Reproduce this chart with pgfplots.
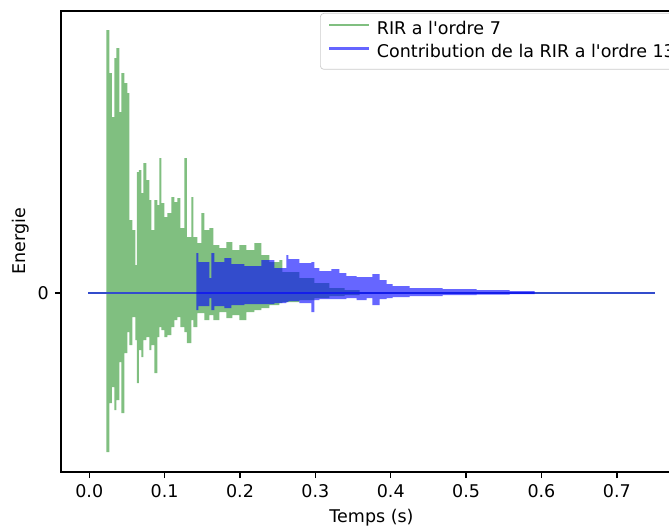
\documentclass[border=0pt]{standalone}
\usepackage{fontspec}
\setmainfont{DejaVu Sans}
\usepackage{pgfplots}
\pgfplotsset{compat=1.18}
\definecolor{mplgreen}{RGB}{128,191,128}
\definecolor{mplblue}{RGB}{0,0,255}
\begin{document}
\begin{tikzpicture}
\useasboundingbox (0,0) rectangle (382.27pt,299.99pt);
\clip (0,0) rectangle (382.27pt,299.99pt);
\begin{axis}[
  at={(34.86pt,30.28pt)}, anchor=south west,
  scale only axis, width=354.84pt, height=263.42pt,
  xmin=-0.0375, xmax=0.7865, ymin=-1.79, ymax=2.82,
  axis line style={line width=0.8pt},
  xtick={0,0.1,0.2,0.3,0.4,0.5,0.6,0.7},
  xticklabels={0.0,0.1,0.2,0.3,0.4,0.5,0.6,0.7},
  ytick={0}, yticklabels={0},
  tick pos=left, tick align=outside,
  major tick length=3.5pt,
  every tick/.style={black, line width=0.8pt},
  /pgf/number format/assume math mode=true,
  ticklabel style={font=\fontsize{10}{12}\selectfont},
  xlabel={Temps (s)}, ylabel={Energie},
  label style={font=\fontsize{10}{12}\selectfont},
  ylabel style={yshift=-2pt},
  legend style={at={(0.4171,0.9957)}, anchor=north west,
    draw=black!20, rounded corners=2pt, fill=white, fill opacity=0.8, text opacity=1,
    inner xsep=5.2pt, inner ysep=4.3pt, row sep=3.4pt, column sep=4.6pt,
    nodes={inner sep=0pt, text height=7.6pt, text depth=2.4pt},
    font=\fontsize{10}{12}\selectfont},
  legend cell align=left,
  legend image code/.code={\draw[#1, line width=1.5pt] (0pt,2.6pt) -- (21pt,2.6pt);},
]
% RIR a l'ordre 7 : enveloppe
\addplot[draw=none, fill=mplgreen, forget plot] coordinates {
(0.0226,0)
(0.0226,2.63) (0.0266,2.63)
(0.0266,2.20) (0.0299,2.20)
(0.0299,1.76) (0.0332,1.76)
(0.0332,2.35) (0.0359,2.35)
(0.0359,2.45) (0.0398,2.45)
(0.0398,1.81) (0.0425,1.81)
(0.0425,2.20) (0.0465,2.20)
(0.0465,2.10) (0.0505,2.10)
(0.0505,2.00) (0.0531,2.00)
(0.0531,0.73) (0.0571,0.73)
(0.0571,0.63) (0.0611,0.63)
(0.0611,0.28) (0.0631,0.28)
(0.0631,1.21) (0.0657,1.21)
(0.0657,1.23) (0.0691,1.23)
(0.0691,1.00) (0.0717,1.00)
(0.0717,1.30) (0.0757,1.30)
(0.0757,1.13) (0.0797,1.13)
(0.0797,0.93) (0.0823,0.93)
(0.0823,0.63) (0.0863,0.63)
(0.0863,0.93) (0.0903,0.93)
(0.0903,0.88) (0.0930,0.88)
(0.0930,1.35) (0.0956,1.35)
(0.0956,0.90) (0.0996,0.90)
(0.0996,0.76) (0.1036,0.76)
(0.1036,0.80) (0.1089,0.80)
(0.1089,0.96) (0.1129,0.96)
(0.1129,0.91) (0.1169,0.91)
(0.1169,0.95) (0.1209,0.95)
(0.1209,0.65) (0.1262,0.65)
(0.1262,1.35) (0.1295,1.35)
(0.1295,0.56) (0.1355,0.56)
(0.1355,0.96) (0.1381,0.96)
(0.1381,0.56) (0.1434,0.56)
(0.1434,0.50) (0.1487,0.50)
(0.1487,0.80) (0.1527,0.80)
(0.1527,0.63) (0.1594,0.63)
(0.1594,0.65) (0.1647,0.65)
(0.1647,0.48) (0.1726,0.48)
(0.1726,0.45) (0.1819,0.45)
(0.1819,0.51) (0.1899,0.51)
(0.1899,0.43) (0.1992,0.43)
(0.1992,0.48) (0.2085,0.48)
(0.2085,0.43) (0.2191,0.43)
(0.2191,0.50) (0.2284,0.50)
(0.2284,0.38) (0.2390,0.38)
(0.2390,0.31) (0.2523,0.31)
(0.2523,0.33) (0.2563,0.33)
(0.2563,0.21) (0.2789,0.21)
(0.2789,0.15) (0.2988,0.15)
(0.2988,0.10) (0.3187,0.10)
(0.3187,0.05) (0.3387,0.05)
(0.3387,0.03) (0.3586,0.03)
(0.3586,-0.02) (0.3387,-0.02)
(0.3387,-0.03) (0.3187,-0.03)
(0.3187,-0.05) (0.2988,-0.05)
(0.2988,-0.07) (0.2789,-0.07)
(0.2789,-0.09) (0.2563,-0.09)
(0.2563,-0.10) (0.2523,-0.10)
(0.2523,-0.12) (0.2390,-0.12)
(0.2390,-0.15) (0.2284,-0.15)
(0.2284,-0.17) (0.2191,-0.17)
(0.2191,-0.19) (0.2085,-0.19)
(0.2085,-0.27) (0.1992,-0.27)
(0.1992,-0.22) (0.1899,-0.22)
(0.1899,-0.25) (0.1819,-0.25)
(0.1819,-0.19) (0.1726,-0.19)
(0.1726,-0.27) (0.1647,-0.27)
(0.1647,-0.22) (0.1594,-0.22)
(0.1594,-0.27) (0.1527,-0.27)
(0.1527,-0.20) (0.1434,-0.20)
(0.1434,-0.34) (0.1381,-0.34)
(0.1381,-0.27) (0.1355,-0.27)
(0.1355,-0.50) (0.1295,-0.50)
(0.1295,-0.39) (0.1262,-0.39)
(0.1262,-0.34) (0.1209,-0.34)
(0.1209,-0.24) (0.1169,-0.24)
(0.1169,-0.27) (0.1129,-0.27)
(0.1129,-0.34) (0.1089,-0.34)
(0.1089,-0.42) (0.1036,-0.42)
(0.1036,-0.44) (0.0996,-0.44)
(0.0996,-0.37) (0.0956,-0.37)
(0.0956,-0.34) (0.0930,-0.34)
(0.0930,-0.44) (0.0903,-0.44)
(0.0903,-0.80) (0.0863,-0.80)
(0.0863,-0.52) (0.0823,-0.52)
(0.0823,-0.57) (0.0797,-0.57)
(0.0797,-0.44) (0.0757,-0.44)
(0.0757,-0.47) (0.0717,-0.47)
(0.0717,-0.64) (0.0691,-0.64)
(0.0691,-0.57) (0.0657,-0.57)
(0.0657,-0.90) (0.0631,-0.90)
(0.0631,-0.47) (0.0611,-0.47)
(0.0611,-0.24) (0.0571,-0.24)
(0.0571,-0.52) (0.0531,-0.52)
(0.0531,-0.39) (0.0505,-0.39)
(0.0505,-0.60) (0.0465,-0.60)
(0.0465,-1.20) (0.0425,-1.20)
(0.0425,-0.69) (0.0398,-0.69)
(0.0398,-1.07) (0.0359,-1.07)
(0.0359,-1.17) (0.0332,-1.17)
(0.0332,-0.94) (0.0299,-0.94)
(0.0299,-1.10) (0.0266,-1.10)
(0.0266,-1.59) (0.0226,-1.59)
} -- cycle;
\addplot[mplgreen, line width=1.5pt, line cap=rect] coordinates {(0,0) (0.749,0)};
\addlegendentry{RIR a l\textquotesingle ordre 7}
% Contribution de la RIR a l'ordre 13 : enveloppe
\addplot[draw=none, fill=mplblue, fill opacity=0.6, forget plot] coordinates {
(0.1421,0)
(0.1421,0.40) (0.1448,0.40)
(0.1448,0.31) (0.1594,0.31)
(0.1594,0.15) (0.1620,0.15)
(0.1620,0.40) (0.1660,0.40)
(0.1660,0.31) (0.1793,0.31)
(0.1793,0.35) (0.1886,0.35)
(0.1886,0.29) (0.2058,0.29)
(0.2058,0.27) (0.2284,0.27)
(0.2284,0.33) (0.2457,0.33)
(0.2457,0.25) (0.2616,0.25)
(0.2616,0.38) (0.2643,0.38)
(0.2643,0.34) (0.2789,0.34)
(0.2789,0.30) (0.2948,0.30)
(0.2948,0.31) (0.2988,0.31)
(0.2988,0.25) (0.3054,0.25)
(0.3054,0.22) (0.3214,0.22)
(0.3214,0.24) (0.3320,0.24)
(0.3320,0.20) (0.3413,0.20)
(0.3413,0.17) (0.3546,0.17)
(0.3546,0.16) (0.3758,0.16)
(0.3758,0.19) (0.3851,0.19)
(0.3851,0.13) (0.3944,0.13)
(0.3944,0.09) (0.4024,0.09)
(0.4024,0.07) (0.4250,0.07)
(0.4250,0.05) (0.4688,0.05)
(0.4688,0.04) (0.5139,0.04)
(0.5139,0.03) (0.5578,0.03)
(0.5578,0.02) (0.5910,0.02)
(0.5910,-0.01) (0.5578,-0.01)
(0.5578,-0.015) (0.5139,-0.015)
(0.5139,-0.02) (0.4688,-0.02)
(0.4688,-0.03) (0.4250,-0.03)
(0.4250,-0.04) (0.4024,-0.04)
(0.4024,-0.05) (0.3944,-0.05)
(0.3944,-0.06) (0.3851,-0.06)
(0.3851,-0.12) (0.3758,-0.12)
(0.3758,-0.05) (0.3679,-0.05)
(0.3679,-0.07) (0.3546,-0.07)
(0.3546,-0.05) (0.3413,-0.05)
(0.3413,-0.06) (0.3054,-0.06)
(0.3054,-0.07) (0.2988,-0.07)
(0.2988,-0.19) (0.2948,-0.19)
(0.2948,-0.10) (0.2789,-0.10)
(0.2789,-0.08) (0.2643,-0.08)
(0.2643,-0.09) (0.2616,-0.09)
(0.2616,-0.10) (0.2457,-0.10)
(0.2457,-0.11) (0.2058,-0.11)
(0.2058,-0.12) (0.1886,-0.12)
(0.1886,-0.15) (0.1793,-0.15)
(0.1793,-0.13) (0.1660,-0.13)
(0.1660,-0.17) (0.1620,-0.17)
(0.1620,-0.05) (0.1594,-0.05)
(0.1594,-0.13) (0.1448,-0.13)
(0.1448,-0.17) (0.1421,-0.17)
} -- cycle;
\addplot[mplblue, opacity=0.6, line width=1.5pt, line cap=rect] coordinates {(0,0) (0.749,0)};
\addlegendentry{Contribution de la RIR a l\textquotesingle ordre 13}
\end{axis}
\end{tikzpicture}
\end{document}
